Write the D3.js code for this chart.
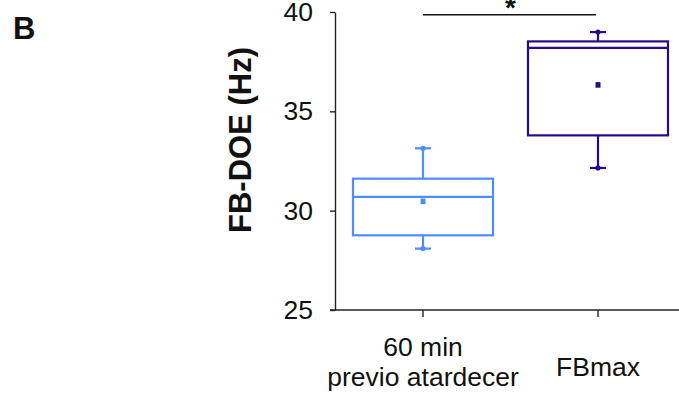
<!DOCTYPE html>
<html><head><meta charset="utf-8">
<script src="https://cdn.jsdelivr.net/npm/d3@7/dist/d3.min.js"></script>
<style>html,body{margin:0;padding:0;background:#fff;}svg{display:block;font-family:"Liberation Sans",Arial,sans-serif;}</style>
</head><body>
<svg id="c" width="679" height="399"></svg>
<script>
const categories = ["60 min|previo atardecer", "FBmax"];
const whiskerMin = [28.09, 32.15];
const q1 = [28.76, 33.79];
const median = [30.69, 38.19];
const q3 = [31.61, 38.52];
const whiskerMax = [33.14, 38.99];
const means = [30.47, 36.33];
const colors = ["#4D8DFF", "#2A0A8C"];
const yTicks = [25, 30, 35, 40];
const yLabel = "FB-DOE (Hz)";
const panelLabel = "B";
const sigMark = "*";

const svg = d3.select("#c");
const y = d3.scaleLinear().domain([25, 40]).range([310, 12]);
const x = d3.scaleBand().domain(categories).range([353, 668]).paddingInner(0.2).paddingOuter(0);
const axisColor = "#222";

// y axis
const yAxis = svg.append("g").attr("transform", "translate(335,0)")
  .call(d3.axisLeft(y).tickValues(yTicks).tickSize(5).tickSizeOuter(0).tickPadding(17));
yAxis.select(".domain").attr("stroke", axisColor).attr("stroke-width", 1.4);
yAxis.selectAll(".tick line").attr("stroke", axisColor).attr("stroke-width", 1.4);
yAxis.selectAll(".tick text").attr("font-size", 26.5).attr("fill", "#111")
  .attr("font-family", "'Liberation Sans',Arial,sans-serif");

// x axis
const xAxisG = svg.append("g").attr("transform", "translate(0,310)");
xAxisG.append("line").attr("x1", 330).attr("x2", 679).attr("y1", 0).attr("y2", 0)
  .attr("stroke", axisColor).attr("stroke-width", 1.4);
categories.forEach(c => {
  const cx = x(c) + x.bandwidth() / 2;
  xAxisG.append("line").attr("x1", cx).attr("x2", cx).attr("y1", 0).attr("y2", 7)
    .attr("stroke", axisColor).attr("stroke-width", 1.4);
  const lines = c.split("|");
  const t = svg.append("text").attr("text-anchor", "middle").attr("font-size", 26.5).attr("fill", "#111");
  if (lines.length === 2) {
    t.append("tspan").attr("x", cx).attr("y", 356).text(lines[0]);
    t.append("tspan").attr("x", cx).attr("y", 386).text(lines[1]);
  } else {
    t.attr("x", cx).attr("y", 376).text(lines[0]);
  }
});

// boxes
categories.forEach((c, i) => {
  const col = colors[i];
  const x0 = x(c), w = x.bandwidth(), cx = x0 + w / 2;
  const g = svg.append("g").attr("stroke", col).attr("stroke-width", 2.2).attr("fill", "none");
  g.append("line").attr("x1", cx).attr("x2", cx).attr("y1", y(whiskerMax[i])).attr("y2", y(q3[i]));
  g.append("line").attr("x1", cx).attr("x2", cx).attr("y1", y(q1[i])).attr("y2", y(whiskerMin[i]));
  [whiskerMax[i], whiskerMin[i]].forEach(v => {
    g.append("line").attr("x1", cx - 8).attr("x2", cx + 8).attr("y1", y(v)).attr("y2", y(v));
    svg.append("circle").attr("cx", cx).attr("cy", y(v)).attr("r", 2.6).attr("fill", col);
  });
  g.append("rect").attr("x", x0).attr("y", y(q3[i])).attr("width", w).attr("height", y(q1[i]) - y(q3[i]));
  g.append("line").attr("x1", x0).attr("x2", x0 + w).attr("y1", y(median[i])).attr("y2", y(median[i]));
  svg.append("rect").attr("x", cx - 2.5).attr("y", y(means[i]) - 2.8).attr("width", 5).attr("height", 5.6).attr("fill", col);
});

// significance
const c0 = x(categories[0]) + x.bandwidth() / 2, c1 = x(categories[1]) + x.bandwidth() / 2;
svg.append("line").attr("x1", c0).attr("x2", c1 - 2).attr("y1", 14.7).attr("y2", 14.7)
  .attr("stroke", "#111").attr("stroke-width", 1.5);
svg.append("text").attr("x", (c0 + c1) / 2).attr("y", 17).attr("text-anchor", "middle")
  .attr("font-size", 28).attr("font-weight", "bold").attr("fill", "#111").text(sigMark);

// y label
svg.append("text").attr("transform", "translate(251,140) rotate(-90)").attr("text-anchor", "middle")
  .attr("font-size", 31).attr("font-weight", "bold").attr("fill", "#111").text(yLabel);

// panel label
svg.append("text").attr("x", 13).attr("y", 39).attr("font-size", 31).attr("font-weight", "bold")
  .attr("fill", "#111").text(panelLabel);
</script>
</body></html>
